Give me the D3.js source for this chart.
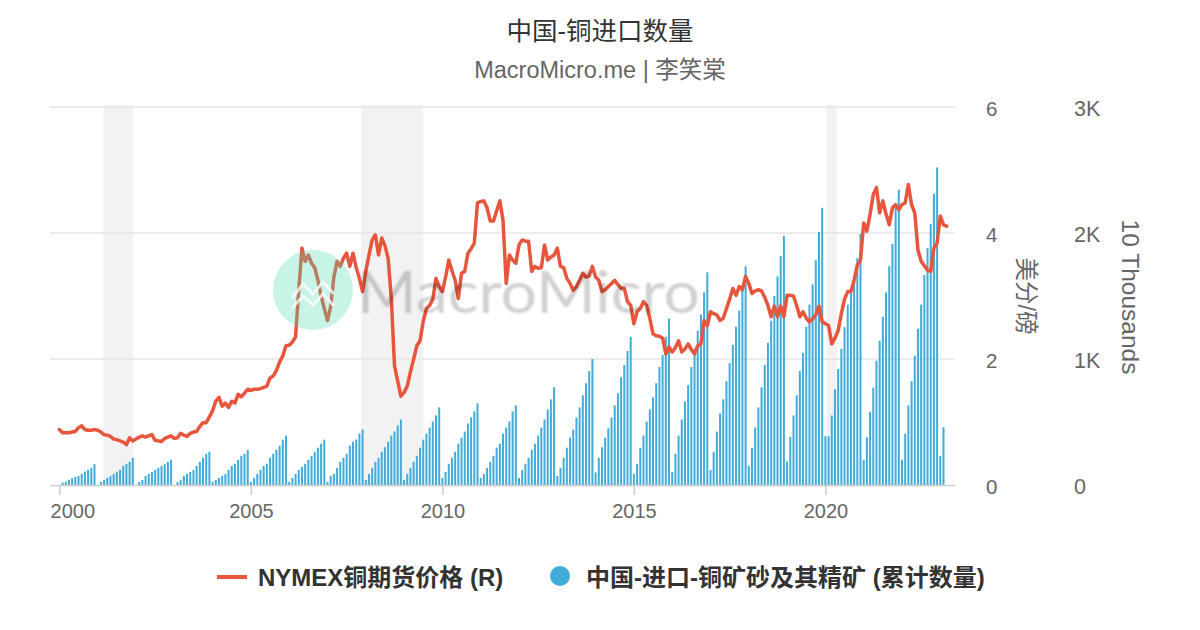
<!DOCTYPE html>
<html><head><meta charset="utf-8">
<script src="https://cdn.jsdelivr.net/npm/d3@7"></script>
<style>
body{margin:0;background:#fff;}
svg{display:block;font-family:"Liberation Sans","Noto Sans CJK SC",Arial,sans-serif;}
</style></head><body>
<svg id="chart" width="1200" height="630"></svg>
<script>
// ---------- DATA ----------
const titleText = "中国-铜进口数量";
const subtitleText = "MacroMicro.me | 李笑棠";
const priceName = "NYMEX铜期货价格 (R)";
const importName = "中国-进口-铜矿砂及其精矿 (累计数量)";
const priceAxisTitle = "美分/磅";
const qtyAxisTitle = "10 Thousands";
const startYear = 2000;            // first month = Jan 2000, monthly series
const xTicks = [2000, 2005, 2010, 2015, 2020];
const priceTicks = [0, 2, 4, 6];
const qtyTicks = [0, 1000, 2000, 3000];
const qtyTickLabels = ["0", "1K", "2K", "3K"];
const recessions = [[2001.15, 2001.92], [2007.88, 2009.5], [2020.03, 2020.29]];

// NYMEX copper futures price, USD/lb, monthly from Jan 2000
const priceMonthly = [
  0.88,0.83,0.83,0.83,0.84,0.85,0.91,0.94,0.88,0.87,0.87,0.88, // 2000
  0.87,0.84,0.80,0.79,0.77,0.73,0.72,0.70,0.68,0.64,0.75,0.70, // 2001
  0.73,0.76,0.78,0.76,0.78,0.80,0.71,0.70,0.69,0.74,0.76,0.78, // 2002
  0.74,0.75,0.82,0.79,0.77,0.82,0.84,0.85,0.93,0.99,0.99,1.08, // 2003
  1.18,1.33,1.39,1.25,1.30,1.23,1.33,1.30,1.44,1.40,1.46,1.52, // 2004
  1.50,1.52,1.52,1.53,1.55,1.57,1.70,1.73,1.82,1.95,2.05,2.21, // 2005
  2.22,2.27,2.35,3.10,3.76,3.55,3.65,3.52,3.45,3.25,3.00,2.80, // 2006
  2.61,2.83,3.30,3.55,3.47,3.60,3.68,3.47,3.68,3.45,3.28,3.07, // 2007
  3.39,3.65,3.89,3.97,3.65,3.92,3.80,3.60,2.96,1.89,1.65,1.41, // 2008
  1.47,1.57,1.80,2.00,2.21,2.29,2.60,2.80,2.85,2.95,3.28,3.15, // 2009
  3.07,3.30,3.57,3.40,3.25,2.96,3.36,3.39,3.68,3.75,3.84,4.48, // 2010
  4.50,4.51,4.40,4.19,4.19,4.35,4.51,4.20,3.20,3.65,3.57,3.52, // 2011
  3.81,3.89,3.87,3.87,3.39,3.47,3.44,3.45,3.81,3.57,3.62,3.65, // 2012
  3.76,3.47,3.45,3.28,3.20,3.09,3.15,3.25,3.36,3.30,3.32,3.47, // 2013
  3.30,3.25,3.07,3.10,3.15,3.20,3.25,3.18,3.12,3.12,2.91,2.85, // 2014
  2.56,2.75,2.80,2.91,2.85,2.64,2.40,2.37,2.36,2.33,2.08,2.19, // 2015
  2.11,2.18,2.29,2.11,2.16,2.24,2.15,2.08,2.21,2.24,2.61,2.53, // 2016
  2.75,2.72,2.70,2.61,2.65,2.80,2.95,3.12,3.01,3.15,3.10,3.31, // 2017
  3.20,3.04,3.08,3.10,3.08,2.98,2.85,2.67,2.84,2.67,2.84,2.67, // 2018
  3.01,3.01,3.00,2.85,2.67,2.75,2.65,2.59,2.64,2.70,2.84,2.59, // 2019
  2.56,2.53,2.24,2.33,2.45,2.72,2.95,3.07,3.07,3.25,3.49,3.57, // 2020
  4.16,4.03,4.30,4.61,4.72,4.32,4.51,4.30,4.13,4.40,4.45,4.37, // 2021
  4.45,4.48,4.77,4.45,4.32,3.73,3.55,3.48,3.41,3.39,3.76,3.84, // 2022
  4.27,4.13,4.11                                               // 2023
];

// China imports of copper ore & concentrate, year-to-date cumulative, 10k tonnes, monthly from Jan 2000
const importsCumulative = [
  null,20,27,40,53,64,72,88,107,120,136,165,           // 2000
  null,24,40,56,72,88,104,120,152,168,184,216,         // 2001
  null,24,40,72,88,104,120,136,152,168,184,200,        // 2002
  null,24,40,72,88,104,120,152,184,216,248,264,        // 2003
  24,40,56,72,88,120,152,168,200,232,248,280,          // 2004
  24,56,88,120,152,168,216,248,280,312,360,392,        // 2005
  24,56,88,120,144,168,200,232,264,296,328,360,        // 2006
  24,72,88,136,184,216,248,312,344,360,408,440,        // 2007
  40,88,136,184,216,264,300,344,392,424,472,520,       // 2008
  40,88,136,184,232,296,360,408,456,504,552,616,       // 2009
  56,104,168,216,264,328,376,424,488,536,584,648,      // 2010
  56,88,136,184,232,296,328,408,456,504,584,632,       // 2011
  56,120,168,216,280,328,392,456,520,600,680,776,      // 2012
  72,136,216,296,376,440,536,616,712,808,904,1000,     // 2013
  100,216,300,376,450,536,632,728,856,952,1064,1176,   // 2014
  88,168,296,392,504,600,696,808,936,1032,1176,1320,   // 2015
  104,248,392,520,664,792,936,1080,1224,1352,1528,1688,// 2016
  120,264,424,568,680,824,968,1112,1256,1384,1560,1736,// 2017
  152,296,456,616,776,952,1128,1304,1501,1656,1816,1976,// 2018
  187,381,552,712,904,1048,1256,1432,1592,1784,2008,2200,// 2019
  387,387,552,760,920,1080,1253,1432,1533,1640,1800,1992,// 2020
  200,379,581,773,987,1144,1336,1528,1736,1912,2200,2344,// 2021
  200,408,632,824,1027,1240,1432,1667,1880,2072,2312,2520,// 2022
  232,459                                               // 2023
];

// ---------- CHART ----------
const svg = d3.select("#chart");
const C = {red:"#e8553d", blue:"#41acd9", grid:"#e6e6e6", band:"#f2f2f2", txt:"#666", dark:"#333"};
const pL = 50, pR = 955, pT = 107, pB = 485;

const x = d3.scaleLinear().domain([1999.755, 2023.384]).range([pL, pR]);
const yP = d3.scaleLinear().domain([0, 6]).range([pB, pT]);
const yQ = d3.scaleLinear().domain([0, 3000]).range([pB, pT]);
const tOf = i => startYear + i / 12;

// title
svg.append("text").attr("x", 600).attr("y", 31).attr("text-anchor", "middle").attr("dominant-baseline", "central")
  .attr("font-size", 25.5).attr("fill", C.dark).text(titleText);
svg.append("text").attr("x", 600).attr("y", 70).attr("text-anchor", "middle").attr("dominant-baseline", "central")
  .attr("font-size", 23.5).attr("fill", C.txt).text(subtitleText);

// recession bands
svg.append("g").selectAll("rect").data(recessions).join("rect")
  .attr("x", d => x(d[0])).attr("width", d => x(d[1]) - x(d[0]))
  .attr("y", pT - 2).attr("height", pB - pT + 2).attr("fill", C.band);

// gridlines
svg.append("g").selectAll("line").data(priceTicks.filter(d => d > 0)).join("line")
  .attr("x1", pL).attr("x2", pR).attr("y1", d => yP(d)).attr("y2", d => yP(d))
  .attr("stroke", C.grid).attr("stroke-width", 1.5);

// bars
const barData = importsCumulative.map((v, i) => ({t: tOf(i), v})).filter(d => d.v != null);
svg.append("g").selectAll("rect").data(barData).join("rect")
  .attr("x", d => x(d.t) - 1).attr("width", 2)
  .attr("y", d => yQ(d.v)).attr("height", d => pB - yQ(d.v))
  .attr("fill", C.blue);

// line
const lineData = priceMonthly.map((v, i) => ({t: tOf(i), v}));
svg.append("path").datum(lineData)
  .attr("d", d3.line().x(d => x(d.t)).y(d => yP(d.v)))
  .attr("fill", "none").attr("stroke", C.red).attr("stroke-width", 3.5)
  .attr("stroke-linejoin", "round").attr("stroke-linecap", "round");

// watermark
const defs = svg.append("defs");
defs.append("filter").attr("id", "blur").append("feGaussianBlur").attr("stdDeviation", 0.8);
const wm = svg.append("g");
wm.append("circle").attr("cx", 313).attr("cy", 290).attr("r", 40).attr("fill", "rgb(72,218,178)").attr("opacity", 0.3);
wm.append("path").attr("d", "M292,298 L303,284 L313,294 L323,282 L334,294")
  .attr("fill", "none").attr("stroke", "#fff").attr("stroke-width", 3).attr("opacity", 0.75);
wm.append("path").attr("d", "M292,308 L303,296 L313,305 L323,294 L334,306")
  .attr("fill", "none").attr("stroke", "#fff").attr("stroke-width", 3).attr("opacity", 0.75);
wm.append("text").attr("x", 357).attr("y", 290).attr("dominant-baseline", "central")
  .attr("font-family", "Lato, 'Open Sans', sans-serif").attr("font-size", 58)
  .attr("textLength", 343).attr("lengthAdjust", "spacingAndGlyphs")
  .attr("fill", "#000").attr("opacity", 0.18).attr("filter", "url(#blur)").text("MacroMicro");

// x axis
const gx = svg.append("g").attr("transform", `translate(0,${pB})`)
  .call(d3.axisBottom(x).tickValues(xTicks).tickFormat(d3.format("d")).tickSize(10).tickSizeOuter(0).tickPadding(9));
gx.select(".domain").attr("stroke", "#ccc").attr("stroke-width", 1.5);
gx.selectAll(".tick line").attr("stroke", "#ccc").attr("stroke-width", 1.5);
gx.selectAll(".tick text").attr("font-size", 20).attr("fill", C.txt).attr("font-family", null);
gx.selectAll(".tick text").filter(d => d === 2000).attr("text-anchor", "start").attr("x", pL - x(2000));

// price axis (R1)
const gp = svg.append("g").attr("transform", "translate(986,2)")
  .call(d3.axisRight(yP).tickValues(priceTicks).tickFormat(d3.format("d")).tickSize(0).tickPadding(0));
gp.select(".domain").remove();
gp.selectAll(".tick text").attr("font-size", 20.5).attr("fill", C.txt).attr("font-family", null);

// qty axis (R2)
const gq = svg.append("g").attr("transform", "translate(1074,2)")
  .call(d3.axisRight(yQ).tickValues(qtyTicks).tickFormat((d, i) => qtyTickLabels[i]).tickSize(0).tickPadding(0));
gq.select(".domain").remove();
gq.selectAll(".tick text").attr("font-size", 21.5).attr("fill", C.txt).attr("font-family", null);

// axis titles
svg.append("text").attr("transform", "translate(1026,296) rotate(90)").attr("text-anchor", "middle")
  .attr("dominant-baseline", "central").attr("font-size", 23.5).attr("fill", C.txt).text(priceAxisTitle);
svg.append("text").attr("transform", "translate(1130,297) rotate(90)").attr("text-anchor", "middle")
  .attr("dominant-baseline", "central").attr("font-size", 24.5).attr("fill", C.txt).text(qtyAxisTitle);

// legend
const lg = svg.append("g");
lg.append("line").attr("x1", 217).attr("x2", 247).attr("y1", 577).attr("y2", 577)
  .attr("stroke", C.red).attr("stroke-width", 4);
lg.append("text").attr("x", 258).attr("y", 577).attr("dominant-baseline", "central")
  .attr("font-size", 24).attr("font-weight", "bold").attr("fill", C.dark).text(priceName);
lg.append("circle").attr("cx", 560).attr("cy", 576).attr("r", 10).attr("fill", C.blue);
lg.append("text").attr("x", 586).attr("y", 577).attr("dominant-baseline", "central")
  .attr("font-size", 24).attr("font-weight", "bold").attr("fill", C.dark).text(importName);
</script>
</body></html>
